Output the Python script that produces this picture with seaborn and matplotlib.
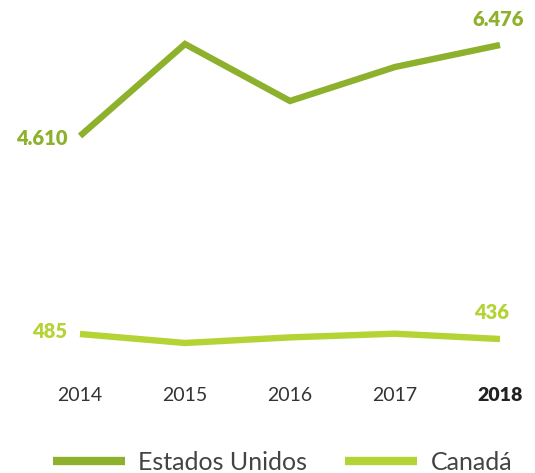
import matplotlib
matplotlib.use("Agg")
import matplotlib.pyplot as plt
import pandas as pd
import seaborn as sns
from matplotlib.lines import Line2D

years = [2014, 2015, 2016, 2017, 2018]
estados_unidos = [4610, 6496, 5328, 6025, 6476]
canada = [485, 397, 452, 488, 436]
series_names = ["Estados Unidos", "Canadá"]
colors = {"Estados Unidos": "#8db12c", "Canadá": "#b4d335"}

sns.set_theme(style="white")
plt.rcParams["font.family"] = ["Lato", "DejaVu Sans"]

df_us = pd.DataFrame({"year": years, "value": estados_unidos})
df_ca = pd.DataFrame({"year": years, "value": canada})

W, H = 535, 473
fig = plt.figure(figsize=(W / 100, H / 100), dpi=100)
left, right = 80 / W, 500 / W

# upper panel: Estados Unidos (y 4610 -> px 136, 6476 -> px 45)
ax_us = fig.add_axes([left, 1 - 136 / H, right - left, 91 / H])
# lower panel: Canadá (y 436 -> px 339, 485 -> px 334)
ax_ca = fig.add_axes([left, 1 - 339 / H, right - left, 5 / H])

line_kw = dict(linewidth=4.6, solid_capstyle="butt", solid_joinstyle="miter")
sns.lineplot(data=df_us, x="year", y="value", ax=ax_us,
             color=colors["Estados Unidos"], **line_kw)
sns.lineplot(data=df_ca, x="year", y="value", ax=ax_ca,
             color=colors["Canadá"], **line_kw)

ax_us.set_ylim(estados_unidos[0], estados_unidos[-1])
ax_ca.set_ylim(canada[-1], canada[0])

for ax in (ax_us, ax_ca):
    ax.set_xlim(years[0], years[-1])
    ax.patch.set_alpha(0)
    for sp in ax.spines.values():
        sp.set_visible(False)
    ax.set_yticks([])
    ax.set_xlabel("")
    ax.set_ylabel("")
    for ln in ax.lines:
        ln.set_clip_on(False)

ax_us.set_xticks([])
ax_ca.set_xticks(years)
ax_ca.set_xticklabels([str(y) for y in years], fontsize=14, color="#333333")
ax_ca.tick_params(axis="x", length=0, pad=34.5)
ax_ca.get_xticklabels()[-1].set_fontweight("heavy")
ax_ca.get_xticklabels()[-1].set_color("#222222")

# value labels at first and last points
lab_kw = dict(fontsize=14.5, fontweight="heavy")
ax_us.annotate(f"{estados_unidos[0]:,}".replace(",", "."),
               xy=(years[0], estados_unidos[0]), xytext=(-9, -2),
               textcoords="offset points", ha="right", va="center",
               color=colors["Estados Unidos"], **lab_kw)
ax_us.annotate(f"{estados_unidos[-1]:,}".replace(",", "."),
               xy=(years[-1], estados_unidos[-1]), xytext=(-1, 18),
               textcoords="offset points", ha="center", va="center",
               color=colors["Estados Unidos"], **lab_kw)
ax_ca.annotate(str(canada[0]),
               xy=(years[0], canada[0]), xytext=(-9, 2),
               textcoords="offset points", ha="right", va="center",
               color=colors["Canadá"], **lab_kw)
ax_ca.annotate(str(canada[-1]),
               xy=(years[-1], canada[-1]), xytext=(-6, 19),
               textcoords="offset points", ha="center", va="center",
               color=colors["Canadá"], **lab_kw)

handles = [Line2D([0], [0], color=colors[n], linewidth=6, solid_capstyle="butt")
           for n in series_names]
fig.legend(handles, series_names, loc="center", bbox_to_anchor=(0.528, 1 - 462 / H),
           ncol=2, frameon=False, fontsize=18, handlelength=2.9,
           handletextpad=0.52, columnspacing=1.5, labelcolor="#444444")

fig.savefig("out.png", dpi=100)
